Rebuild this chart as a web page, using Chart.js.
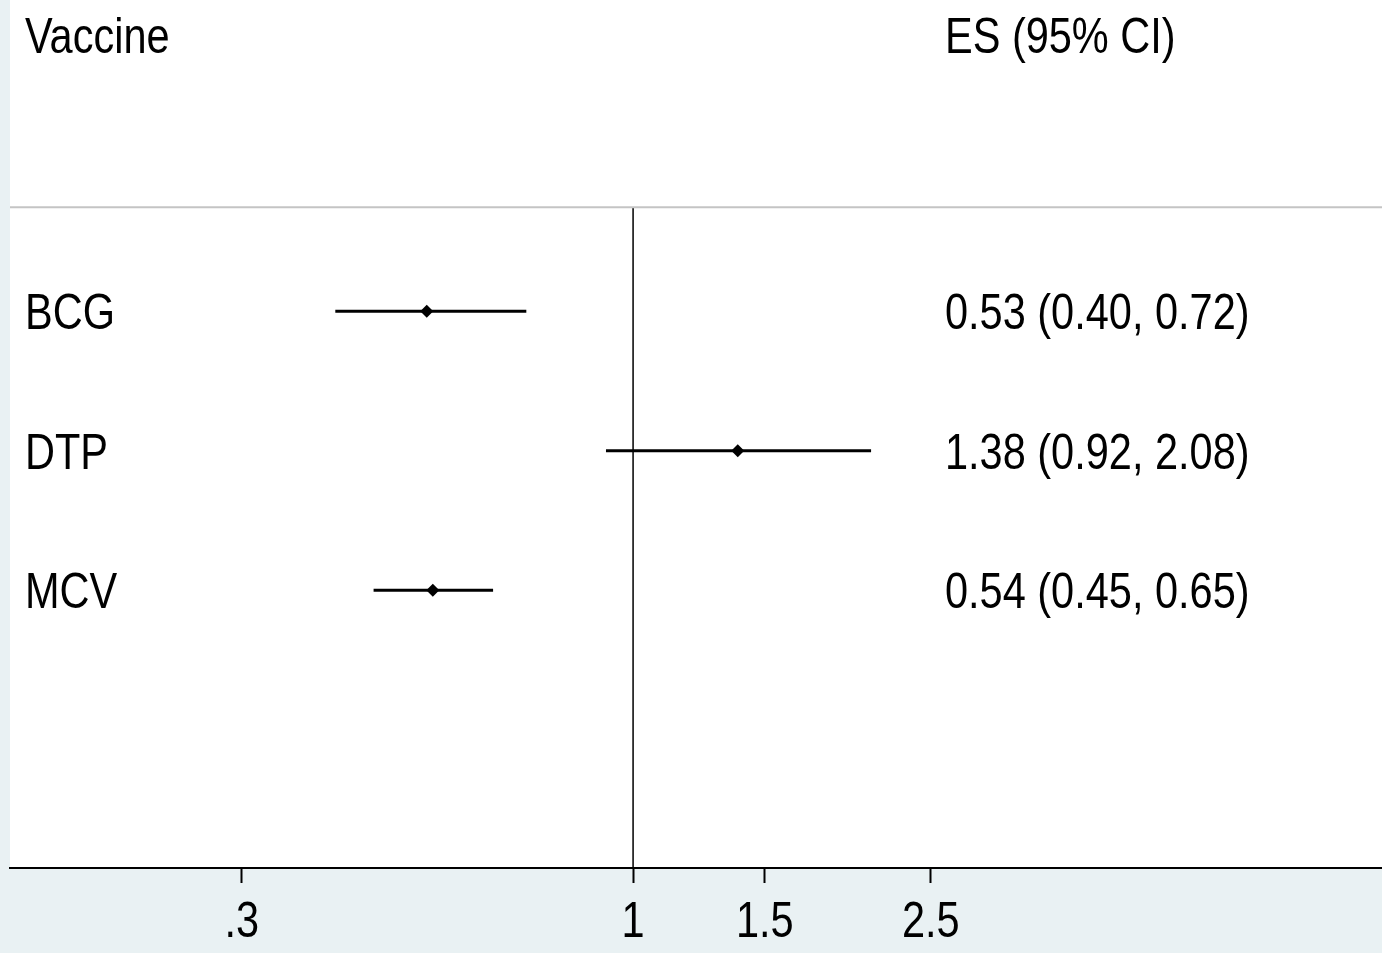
<!DOCTYPE html>
<html>
<head>
<meta charset="utf-8">
<title>Forest plot</title>
<script src="https://cdn.jsdelivr.net/npm/chart.js"></script>
<style>
  body { margin: 0; background: #e9f1f3; }
  canvas { display: block; }
</style>
</head>
<body>
<canvas id="myChart" width="1382" height="953"></canvas>
<script>
// data
const vaccines = ['BCG', 'DTP', 'MCV'];
const estimates = [0.53, 1.38, 0.54];
const lowerCI = [0.40, 0.92, 0.45];
const upperCI = [0.72, 2.08, 0.65];
const esLabels = ['0.53 (0.40, 0.72)', '1.38 (0.92, 2.08)', '0.54 (0.45, 0.65)'];
const tickValues = [0.3, 1, 1.5, 2.5];
const tickLabels = ['.3', '1', '1.5', '2.5'];

const rows = vaccines.map((v, i) => i + 1);
const xMin = 0.147, xMax = 10.02;
const yMin = -1.23, yMax = 4.99;
const headerRow = -0.965;
const dividerRow = 0.2545;

const FONT = "'Liberation Sans', Arial, sans-serif";
const NARROW = 0.83; // squeeze to look like Arial Narrow

let ctx = document.querySelector("#myChart");

const ciSets = vaccines.map((v, i) => ({
    label: v + ' CI',
    data: [{x: lowerCI[i], y: rows[i]}, {x: upperCI[i], y: rows[i]}],
    showLine: true,
    borderColor: '#000',
    borderWidth: 3,
    pointRadius: 0,
    order: 2
}));

function narrowText(c, txt, x, y, align) {
    c.save();
    c.translate(x, y);
    c.scale(NARROW, 1);
    c.textAlign = align || 'left';
    c.fillText(txt, 0, 0);
    c.restore();
}

const textPlugin = {
    id: 'forestText',
    beforeDraw(chart) {
        const c = chart.ctx, a = chart.chartArea;
        c.save();
        c.fillStyle = '#e9f1f3';
        c.fillRect(0, 0, chart.width, chart.height);
        c.fillStyle = '#fff';
        c.fillRect(a.left, a.top, a.right - a.left, a.bottom - a.top);
        c.restore();
    },
    afterDraw(chart) {
        const c = chart.ctx, ys = chart.scales.y, xs = chart.scales.x;
        c.save();
        c.font = '50px ' + FONT;
        c.fillStyle = '#000';
        c.textBaseline = 'middle';
        narrowText(c, 'Vaccine', 25, ys.getPixelForValue(headerRow) + 2);
        narrowText(c, 'ES (95% CI)', 945, ys.getPixelForValue(headerRow) + 2);
        vaccines.forEach((v, i) => {
            const y = ys.getPixelForValue(rows[i]) + 4;
            narrowText(c, v, 25, y);
            narrowText(c, esLabels[i], 945, y);
        });
        // x tick labels, placed by the log scale
        tickValues.forEach((t, i) => {
            narrowText(c, tickLabels[i], xs.getPixelForValue(t), xs.top + 55, 'center');
        });
        c.restore();
    }
};

new Chart(ctx, {
    type: 'scatter',
    data: {
        datasets: [
            {
                label: 'divider',
                data: [{x: xMin, y: dividerRow}, {x: xMax, y: dividerRow}],
                showLine: true,
                borderColor: '#c4c4c4',
                borderWidth: 2,
                pointRadius: 0,
                order: 3
            },
            {
                label: 'null line',
                data: [{x: 1, y: dividerRow}, {x: 1, y: yMax}],
                showLine: true,
                borderColor: '#000',
                borderWidth: 1.5,
                pointRadius: 0,
                order: 3
            },
            ...ciSets,
            {
                label: 'ES',
                data: vaccines.map((v, i) => ({x: estimates[i], y: rows[i]})),
                pointStyle: 'rectRot',
                pointRadius: 6.5,
                backgroundColor: '#000',
                borderColor: '#000',
                borderWidth: 0,
                order: 1
            }
        ]
    },
    options: {
        responsive: false,
        animation: false,
        layout: { autoPadding: false, padding: { left: 10, right: 0, top: 0, bottom: 0 } },
        plugins: {
            legend: { display: false },
            tooltip: { enabled: false }
        },
        scales: {
            x: {
                type: 'logarithmic',
                min: xMin,
                max: xMax,
                afterBuildTicks(scale) {
                    scale.ticks = tickValues.map(v => ({value: v}));
                },
                afterFit(scale) { scale.height = 85; },
                border: { display: true, color: '#000', width: 2 },
                grid: {
                    drawOnChartArea: false,
                    drawTicks: true,
                    tickLength: 15,
                    tickColor: '#000',
                    tickWidth: 2
                },
                ticks: {
                    autoSkip: false,
                    maxRotation: 0,
                    color: 'rgba(0,0,0,0)',
                    font: { size: 48, family: FONT },
                    callback: (val, i) => tickLabels[i]
                }
            },
            y: {
                type: 'linear',
                reverse: true,
                min: yMin,
                max: yMax,
                display: false
            }
        }
    },
    plugins: [textPlugin]
});
</script>
</body>
</html>
